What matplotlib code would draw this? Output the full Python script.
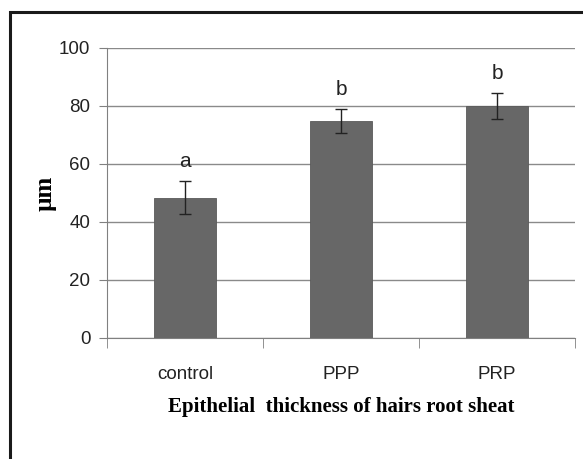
import matplotlib
matplotlib.use("Agg")
import matplotlib.pyplot as plt
from matplotlib.patches import Rectangle

categories = ["control", "PPP", "PRP"]
values = [48.3, 74.8, 80.1]
errors = [5.7, 4.2, 4.5]
letters = ["a", "b", "b"]
yticks = [0, 20, 40, 60, 80, 100]

fig = plt.figure(figsize=(5.83, 4.59), dpi=100)
fig.patch.set_facecolor("white")
# outer frame
fig.patches.append(Rectangle((10/583, -0.05), 1.2, 1 - 12/459 + 0.05,
                             transform=fig.transFigure, fill=False,
                             edgecolor="#1a1a1a", linewidth=2.2, clip_on=False))

ax = fig.add_axes([107/583, 1 - 338/459, 468/583, 290/459])
x = range(len(categories))
ax.bar(x, values, width=0.4, color="#676767", edgecolor="#5a5a5a",
       linewidth=0.6, zorder=3)
ax.errorbar(x, values, yerr=errors, fmt="none", ecolor="#222222",
            elinewidth=1.0, capsize=4, capthick=1.0, zorder=4)
for xi, v, e, l in zip(x, values, errors, letters):
    ax.text(xi, v + e + 3.5, l, ha="center", va="bottom",
            fontsize=15, family="Liberation Sans", color="#222222")

ax.set_xlim(-0.5, 2.5)
ax.set_ylim(0, 100)
ax.set_yticks(yticks)
ax.set_yticklabels([str(t) for t in yticks], fontsize=13.5, family="Liberation Sans", color="#222222")
ax.set_xticks(list(x))
ax.set_xticklabels(categories, fontsize=13.5, family="Liberation Sans", color="#222222")
ax.tick_params(axis="x", length=0, pad=20)
ax.set_xticks([-0.5, 0.5, 1.5, 2.5], minor=True)
ax.tick_params(axis="x", which="minor", length=7, color="#808080", direction="out")
ax.tick_params(axis="y", length=6, color="#808080", direction="out", pad=6)
ax.yaxis.grid(True, color="#8a8a8a", linewidth=1.0, zorder=0)
ax.set_axisbelow(True)
for s in ["top", "right"]:
    ax.spines[s].set_visible(False)
ax.spines["left"].set_color("#808080")
ax.spines["bottom"].set_color("#808080")

ax.set_ylabel("µm", fontsize=18, family="Liberation Serif", fontweight="bold", labelpad=2)
ax.set_xlabel("Epithelial  thickness of hairs root sheat", fontsize=15,
              family="Liberation Serif", fontweight="bold", labelpad=10)

fig.savefig("out.png", dpi=100)
